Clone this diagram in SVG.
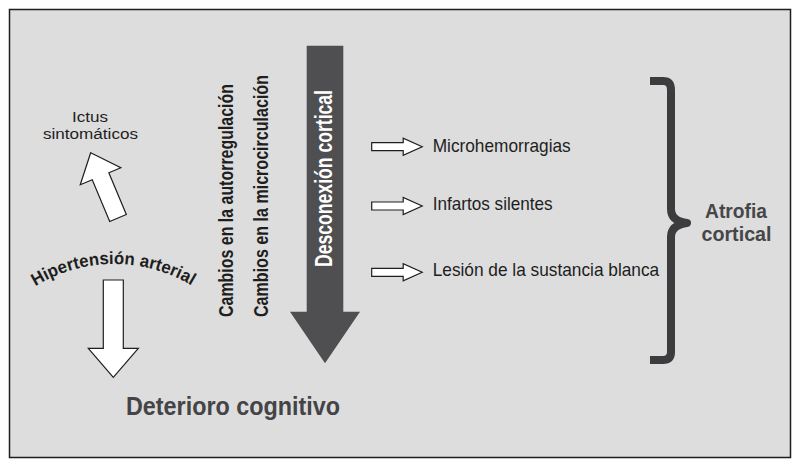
<svg xmlns="http://www.w3.org/2000/svg" width="799" height="468" viewBox="0 0 799 468">
  <style>
    .reg { font-family: "Liberation Sans Narrow", "Liberation Sans", Arial, sans-serif; fill: #1e1e1e; }
    .bold { font-family: "Liberation Sans Narrow", "Liberation Sans", Arial, sans-serif; font-weight: bold; }
    .white-arrow { fill: #ffffff; stroke: #1e1e1e; stroke-width: 1.2; stroke-linejoin: miter; }
  </style>
  <defs>
    <path id="arc" d="M 34.5 286.8 A 150 150 0 0 1 193.5 286.8" fill="none"/>
    <polygon id="smallArrow" points="0,-4 31.5,-4 31.5,-8.5 50.5,0 31.5,8.5 31.5,4 0,4"/>
  </defs>
  <rect x="0" y="0" width="799" height="468" fill="#ffffff"/>
  <rect id="frame" x="9.5" y="9.5" width="781" height="448" fill="#dddddd" stroke="#1e1e1e" stroke-width="1.5"/>

  <g id="ictus">
    <text class="reg" x="72" y="121.5" font-size="15.5" textLength="36" lengthAdjust="spacingAndGlyphs">Ictus</text>
    <text class="reg" x="43" y="139" font-size="15.5" textLength="95" lengthAdjust="spacingAndGlyphs">sintomáticos</text>
  </g>

  <g id="hipertension">
    <text class="bold" font-size="17.5" fill="#1e1e1e">
      <textPath href="#arc" startOffset="1" textLength="164" lengthAdjust="spacingAndGlyphs">Hipertensión arterial</textPath>
    </text>
  </g>

  <g id="cambios-auto">
    <text class="bold" font-size="19.5" fill="#1e1e1e" transform="translate(233,317) rotate(-90)" textLength="233" lengthAdjust="spacingAndGlyphs">Cambios en la autorregulación</text>
  </g>
  <g id="cambios-micro">
    <text class="bold" font-size="19.5" fill="#1e1e1e" transform="translate(268,317) rotate(-90)" textLength="242" lengthAdjust="spacingAndGlyphs">Cambios en la microcirculación</text>
  </g>

  <g id="desconexion">
    <polygon points="306.7,45.7 343.3,45.7 343.3,311.7 360,311.7 325,363.3 290,311.7 306.7,311.7" fill="#4f4f51"/>
    <text class="bold" font-size="24.5" fill="#ffffff" transform="translate(332,267) rotate(-90)" textLength="177" lengthAdjust="spacingAndGlyphs">Desconexión cortical</text>
  </g>

  <g id="deterioro">
    <text class="bold" x="126" y="415" font-size="26.5" fill="#444446" textLength="214" lengthAdjust="spacingAndGlyphs">Deterioro cognitivo</text>
  </g>

  <g id="microhemorragias">
    <text class="reg" x="432.7" y="151.7" font-size="18.5" textLength="138" lengthAdjust="spacingAndGlyphs">Microhemorragias</text>
  </g>
  <g id="infartos">
    <text class="reg" x="432.7" y="210" font-size="18.5" textLength="120" lengthAdjust="spacingAndGlyphs">Infartos silentes</text>
  </g>
  <g id="lesion">
    <text class="reg" x="432.7" y="276" font-size="18.5" textLength="226.5" lengthAdjust="spacingAndGlyphs">Lesión de la sustancia blanca</text>
  </g>

  <g id="atrofia">
    <path d="M 650 81 L 663 81 Q 671 81 671 90 L 671 209 Q 671 221 687 223 Q 671 225 671 237 L 671 352 Q 671 360 663 360 L 650 360" fill="none" stroke="#3c3c3e" stroke-width="8" stroke-linejoin="round"/>
    <text class="bold" x="736" y="217.5" font-size="21" fill="#464648" text-anchor="middle" textLength="62" lengthAdjust="spacingAndGlyphs">Atrofia</text>
    <text class="bold" x="736.5" y="241" font-size="21" fill="#464648" text-anchor="middle" textLength="70" lengthAdjust="spacingAndGlyphs">cortical</text>
  </g>

  <g id="connectors">
    <polygon class="white-arrow" transform="translate(90.7,152.7) rotate(-22.7)" points="0,0 22,25.5 9,25.5 9,70.8 -9,70.8 -9,25.5 -22,25.5"/>
    <polygon class="white-arrow" points="103.3,280 123.3,280 123.3,348.3 138.3,348.3 113.3,377.3 88.3,348.3 103.3,348.3"/>
    <use href="#smallArrow" class="white-arrow" x="371.7" y="146.7"/>
    <use href="#smallArrow" class="white-arrow" x="371.7" y="206"/>
    <use href="#smallArrow" class="white-arrow" x="371.7" y="272.3"/>
  </g>
</svg>
